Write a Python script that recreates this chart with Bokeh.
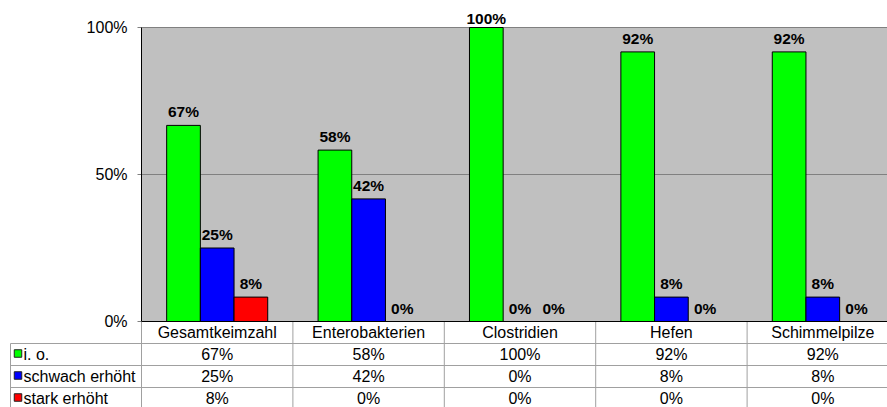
from bokeh.plotting import figure
from bokeh.models import Range1d, ColumnDataSource
from bokeh.core.properties import value
from bokeh.embed import file_html
from bokeh.resources import INLINE

# ---------------- data ----------------
categories = ["Gesamtkeimzahl", "Enterobakterien", "Clostridien", "Hefen", "Schimmelpilze"]
series_names = ["i. o.", "schwach erhöht", "stark erhöht"]
io_values = [0.667, 0.583, 1.0, 0.917, 0.917]
schwach_values = [0.25, 0.417, 0.0, 0.083, 0.083]
stark_values = [0.083, 0.0, 0.0, 0.0, 0.0]
series_colors = ["#00FF00", "#0000FF", "#FF0000"]
y_ticks = [0.0, 0.5, 1.0]
y_tick_labels = ["0%", "50%", "100%"]

all_series = [io_values, schwach_values, stark_values]

# ---------------- layout (pixels) ----------------
W, H = 887, 407
AX_LEFT = 141          # plot-area left edge in figure pixels
ZERO_Y = 321           # 0% line in figure pixels from top
PX_Y = 294             # pixels for 100 %
PX_CAT = 151.4         # pixels per category
ROW_H = 22.0
BAR_W = 0.2225
FONT = "Liberation Sans"
GRID_GRAY = "#808080"
TABLE_GRAY = "#A0A0A0"


def dx(px):
    return px / PX_CAT


def dy(px):
    return px / PX_Y


x0, x1 = -dx(AX_LEFT), dx(W - AX_LEFT)
y0, y1 = (ZERO_Y - H) / PX_Y, ZERO_Y / PX_Y

p = figure(width=W, height=H, x_range=Range1d(x0, x1), y_range=Range1d(y0, y1),
           output_backend="svg", toolbar_location=None, min_border=0,
           x_axis_location=None, y_axis_location=None)
p.outline_line_color = None
p.grid.visible = False
p.background_fill_color = "white"
p.border_fill_color = "white"

n = len(categories)

# plot area background
p.quad(left=[0], right=[x1], bottom=[0], top=[1], fill_color="#C0C0C0", line_color=None)

# gridlines
grid_vals = [t for t in y_ticks if t > 0]
p.segment(x0=[0] * len(grid_vals), x1=[x1] * len(grid_vals), y0=grid_vals, y1=grid_vals,
          line_color=GRID_GRAY, line_width=1)

# tick marks + labels
p.segment(x0=[-dx(4)] * len(y_ticks), x1=[0] * len(y_ticks), y0=y_ticks, y1=y_ticks,
          line_color=GRID_GRAY, line_width=1)
p.text(x=[-dx(14)] * len(y_ticks), y=y_ticks, text=y_tick_labels,
       text_font=value(FONT), text_font_size="16px", text_align="right",
       text_baseline="middle", text_color="black")

# bars
offsets = [-BAR_W, 0.0, BAR_W]
for vals, off, col in zip(all_series, offsets, series_colors):
    xs = [i + 0.5 + off for i in range(n)]
    src = ColumnDataSource(dict(x=xs, top=vals,
                                label=[f"{round(v * 100)}%" for v in vals],
                                yoff=[-1 if v >= 1 else -5 for v in vals]))
    p.vbar(x="x", top="top", bottom=0, width=BAR_W, source=src,
           fill_color=col, line_color="black", line_width=1)
    p.text(x="x", y="top", text="label", y_offset="yoff", source=src,
           text_font=value(FONT), text_font_size="15.5px", text_font_style="bold",
           text_align="center", text_baseline="bottom", text_color="black")

# axis lines
p.segment(x0=[0], x1=[0], y0=[0], y1=[1], line_color="black", line_width=1)

# ---------------- data table ----------------
row_tops = [-dy(k * ROW_H) for k in range(5)]
# category boundaries (vertical lines)
vx = list(range(n + 1))
p.segment(x0=vx, x1=vx, y0=[0] * len(vx), y1=[y0] * len(vx),
          line_color=TABLE_GRAY, line_width=1)
# legend column left border
leg_left = -dx(AX_LEFT - 10)
p.segment(x0=[leg_left], x1=[leg_left], y0=[row_tops[1]], y1=[y0],
          line_color=TABLE_GRAY, line_width=1)
# horizontal lines
hy = row_tops[1:4]
p.segment(x0=[leg_left] * len(hy), x1=[x1] * len(hy), y0=hy, y1=hy,
          line_color=TABLE_GRAY, line_width=1)
# bottom axis line (on top of table lines)
p.segment(x0=[0], x1=[x1], y0=[0], y1=[0], line_color="black", line_width=1)

centers = [i + 0.5 for i in range(n)]
row_mid = [(row_tops[k] + row_tops[k + 1]) / 2 for k in range(4)]

p.text(x=centers, y=[row_mid[0]] * n, text=categories,
       text_font=value(FONT), text_font_size="16px", text_align="center",
       text_baseline="middle", text_color="black")

for k, (vals, name, col) in enumerate(zip(all_series, series_names, series_colors)):
    ym = row_mid[k + 1]
    p.text(x=centers, y=[ym] * n, text=[f"{round(v * 100)}%" for v in vals],
           text_font=value(FONT), text_font_size="16px", text_align="center",
           text_baseline="middle", text_color="black")
    p.scatter(x=[-dx(AX_LEFT - 17.5)], y=[ym + dy(1)], marker="square", size=7.5,
              fill_color=col, line_color="#202020", line_width=1)
    p.text(x=[-dx(AX_LEFT - 23)], y=[ym], text=[name],
           text_font=value(FONT), text_font_size="16px", text_align="left",
           text_baseline="middle", text_color="black")

open("out.html", "w").write(file_html(p, INLINE))
